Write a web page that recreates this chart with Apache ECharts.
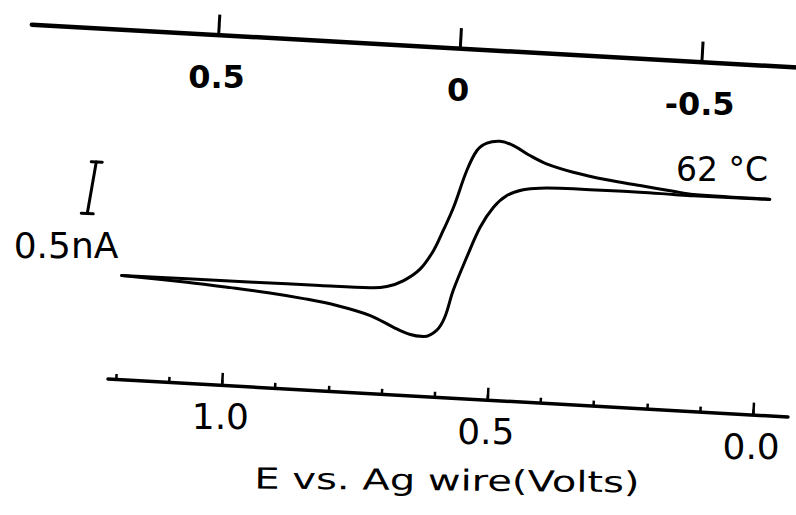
<!DOCTYPE html>
<html>
<head>
<meta charset="utf-8">
<script src="https://cdn.jsdelivr.net/npm/echarts@6/dist/echarts.min.js"></script>
<style>
html,body{margin:0;padding:0;width:796px;height:515px;overflow:hidden;background:#fff;}
#wrap{position:absolute;left:-102px;top:-92.5px;width:1000px;height:700px;transform:rotate(3.2deg);transform-origin:50% 50%;}
</style>
</head>
<body>
<div id="wrap"></div>
<script>
// ---- data (E in volts vs. Ag wire, I in nA, arbitrary zero) ----
const lowerE = [-0.009, 0.135, 0.173, 0.236, 0.298, 0.361, 0.424, 0.455, 0.485, 0.509, 0.532, 0.554, 0.576, 0.589, 0.603, 0.627, 0.652, 0.684, 0.729, 0.793, 0.856, 0.920, 0.995, 1.077, 1.200];
const lowerI = [1.074, 1.068, 1.070, 1.074, 1.072, 1.071, 1.059, 1.035, 0.971, 0.851, 0.652, 0.357, 0.030, -0.231, -0.362, -0.428, -0.415, -0.355, -0.255, -0.176, -0.128, -0.092, -0.062, -0.034, -0.004];
const upperE = [1.200, 1.077, 0.952, 0.827, 0.732, 0.701, 0.670, 0.640, 0.617, 0.601, 0.584, 0.563, 0.546, 0.528, 0.504, 0.478, 0.446, 0.414, 0.363, 0.299, 0.236, 0.173, 0.135, -0.009];
const upperI = [-0.004, -0.001, 0.003, 0.007, 0.012, 0.033, 0.099, 0.220, 0.404, 0.601, 0.830, 1.189, 1.387, 1.463, 1.488, 1.454, 1.367, 1.296, 1.230, 1.175, 1.138, 1.101, 1.081, 1.076];

const bottomMajorTicks = [1.0, 0.5, 0.0];
const bottomTickLabels = ['1.0', '0.5', '0.0'];
const bottomMinorTicks = [1.2, 1.1, 1.0, 0.9, 0.8, 0.7, 0.6, 0.5, 0.4, 0.3, 0.2, 0.1, 0.0];
const topTicks = [0.5, 0, -0.5];
const topTickLabels = ['0.5', '0', '-0.5'];

const scaleBarE = [1.2713, 1.2598];   // bottom, top (hand-drawn bar)
const scaleBarI = [0.573, 1.073];     // 0.5 nA span
const scaleBarText = '0.5nA';
const tempText = '62 °C';
const xName = 'E vs. Ag wire(Volts)';

// ---- layout ----
const OX = 102, OY = 92.5;
const TILT = 3.2 * Math.PI / 180;

const chart = echarts.init(document.getElementById('wrap'), null, {renderer: 'svg', width: 1000, height: 700});

const lowerData = lowerE.map((e, i) => [e, lowerI[i]]);
const upperData = upperE.map((e, i) => [e, upperI[i]]);

const lineStyle = {color: '#000', width: 3, cap: 'round', join: 'round'};

const option = {
  animation: false,
  backgroundColor: '#fff',
  grid: [
    {left: 115.2 + OX, top: 134 + OY, width: 681, height: 260, outerBoundsMode: 'none'},
    {left: 19.4 + OX, top: 24.5 + OY, width: 780.6, height: 20, outerBoundsMode: 'none'}
  ],
  xAxis: [
    {
      gridIndex: 0, type: 'value', min: -0.066, max: 1.215, inverse: true, position: 'bottom',
      axisLine: {show: true, onZero: false, lineStyle: {color: '#000', width: 3.5}},
      axisTick: {show: true, inside: true, length: 12, customValues: bottomMajorTicks, lineStyle: {color: '#000', width: 2.5}},
      axisLabel: {
        show: true, customValues: bottomMajorTicks,
        formatter: v => bottomTickLabels[bottomMajorTicks.findIndex(t => Math.abs(t - v) < 1e-9)],
        rotate: 3.2, align: 'center', verticalAlign: 'middle', margin: 32,
        fontSize: 36, fontFamily: 'DejaVu Sans', color: '#000'
      },
      splitLine: {show: false}
    },
    {
      gridIndex: 0, type: 'value', min: -0.066, max: 1.215, inverse: true, position: 'bottom',
      axisLine: {show: false, onZero: false},
      axisTick: {show: true, inside: true, length: 5, customValues: bottomMinorTicks, lineStyle: {color: '#000', width: 2.5}},
      axisLabel: {show: false},
      splitLine: {show: false}
    },
    {
      gridIndex: 1, type: 'value', min: -0.7262, max: 0.8869, inverse: true, position: 'bottom',
      axisLine: {show: true, onZero: false, lineStyle: {color: '#000', width: 4.5}},
      axisTick: {show: true, inside: true, length: 20, customValues: topTicks, lineStyle: {color: '#000', width: 3}},
      axisLabel: {
        show: true, customValues: topTicks,
        formatter: v => topTickLabels[topTicks.findIndex(t => Math.abs(t - v) < 1e-9)],
        rotate: 3.2, align: 'center', verticalAlign: 'middle', margin: 42,
        fontSize: 32, fontWeight: 'bold', fontFamily: 'DejaVu Sans', color: '#000'
      },
      splitLine: {show: false}
    }
  ],
  yAxis: [
    {gridIndex: 0, type: 'value', min: -1.0, max: 1.5, show: false, splitLine: {show: false}},
    {gridIndex: 1, type: 'value', min: 0, max: 1, show: false, splitLine: {show: false}}
  ],
  series: [
    {type: 'line', xAxisIndex: 0, yAxisIndex: 0, data: lowerData, symbol: 'none', smooth: 0.35, clip: false, lineStyle: lineStyle},
    {type: 'line', xAxisIndex: 0, yAxisIndex: 0, data: upperData, symbol: 'none', smooth: 0.35, clip: false, lineStyle: lineStyle},
    {
      type: 'custom', xAxisIndex: 0, yAxisIndex: 0, clip: false,
      data: [[scaleBarE[0], scaleBarI[0], scaleBarE[1], scaleBarI[1]]],
      renderItem: function (params, api) {
        const b = api.coord([api.value(0), api.value(1)]);
        const t = api.coord([api.value(2), api.value(3)]);
        const st = {stroke: '#000', lineWidth: 3, lineCap: 'round'};
        return {
          type: 'group',
          children: [
            {type: 'line', shape: {x1: b[0], y1: b[1], x2: t[0], y2: t[1]}, style: st},
            {type: 'line', shape: {x1: t[0] - 5, y1: t[1], x2: t[0] + 6, y2: t[1]}, style: st},
            {type: 'line', shape: {x1: b[0] - 6, y1: b[1], x2: b[0] + 6, y2: b[1]}, style: st}
          ]
        };
      }
    }
  ],
  graphic: [
    {type: 'text', x: 65.8 + OX, y: 263.5 + OY, rotation: TILT,
     style: {text: scaleBarText, fontSize: 36, fontFamily: 'DejaVu Sans', fill: '#000', align: 'center', verticalAlign: 'middle'}},
    {type: 'text', x: 716.6 + OX, y: 151.1 + OY, rotation: TILT,
     style: {text: tempText, fontSize: 33, fontFamily: 'DejaVu Sans', fill: '#000', align: 'center', verticalAlign: 'middle'}},
    {type: 'text', x: 459.3 + OX, y: 476.9 + OY, rotation: 2.6 * Math.PI / 180, scaleX: 1.38,
     style: {text: xName, fontSize: 29, fontFamily: 'DejaVu Sans', fill: '#000', align: 'center', verticalAlign: 'middle'}}
  ]
};
chart.setOption(option);
</script>
</body>
</html>
